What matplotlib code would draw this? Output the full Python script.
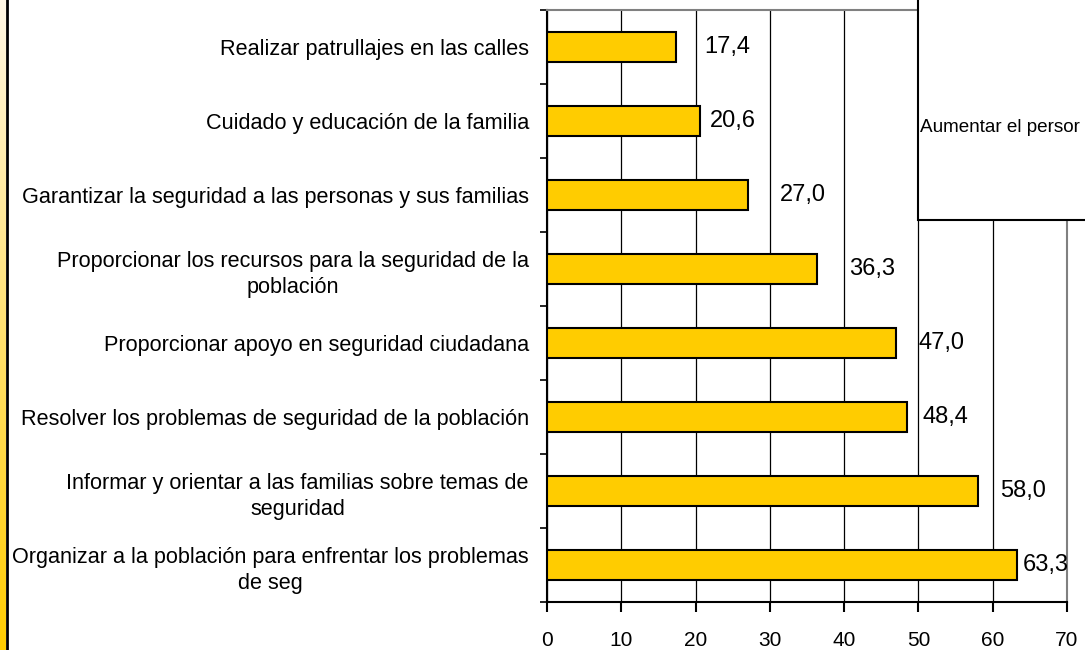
import numpy as np
import matplotlib.pyplot as plt
from matplotlib.patches import Rectangle

plt.rcParams['font.family'] = ['Liberation Sans', 'DejaVu Sans']

# data, top to bottom as shown
categories = [
    'Realizar patrullajes en las calles',
    'Cuidado y educación de la familia',
    'Garantizar la seguridad a las personas y sus familias',
    'Proporcionar los recursos para la seguridad de la\npoblación',
    'Proporcionar apoyo en seguridad ciudadana',
    'Resolver los problemas de seguridad de la población',
    'Informar y orientar a las familias sobre temas de\nseguridad',
    'Organizar a la población para enfrentar los problemas\nde seg',
]
values = [17.4, 20.6, 27.0, 36.3, 47.0, 48.4, 58.0, 63.3]
value_labels = ['17,4', '20,6', '27,0', '36,3', '47,0', '48,4', '58,0', '63,3']
label_offsets = [28, 10, 32, 32, 22, 16, 22, 6]  # px right of bar end

fig = plt.figure(figsize=(10.85, 6.5), dpi=100)
ax = fig.add_axes([547 / 1085, 48 / 650, 520 / 1085, 592 / 650])

y = np.arange(len(categories))
ax.barh(y, values, height=0.4, color='#FFCC00', edgecolor='black', linewidth=1.5, zorder=3)
ax.set_ylim(len(categories) - 0.5, -0.5)
ax.set_xlim(0, 70)

for yi, v, lab, off in zip(y, values, value_labels, label_offsets):
    ax.annotate(lab, (v, yi), xytext=(off * 0.72, 0), textcoords='offset points',
                ha='left', va='center', fontsize=17, zorder=4)

ax.set_yticks(y)
ax.set_yticklabels(categories, fontsize=15.6, multialignment='center', linespacing=1.35)
ax.tick_params(axis='y', which='major', length=0, pad=13)
ax.set_yticks(np.arange(-0.5, len(categories)), minor=True)
ax.tick_params(axis='y', which='minor', length=5, width=1.2, direction='out')

ax.set_xticks(np.arange(0, 71, 10))
ax.tick_params(axis='x', length=7, width=1.5, pad=14, labelsize=15)

ax.grid(axis='x', color='black', linewidth=0.9, zorder=0)
ax.spines['left'].set_linewidth(1.5)
ax.spines['bottom'].set_linewidth(1.5)
ax.spines['top'].set_color('#808080')
ax.spines['right'].set_color('#808080')
ax.spines['top'].set_linewidth(1.5)
ax.spines['right'].set_linewidth(1.5)

# box in the top right corner (cut off by the figure edge)
fig.patches.append(Rectangle((918 / 1085, 1 - 220 / 650), 0.2, 0.4, transform=fig.transFigure,
                             facecolor='white', edgecolor='black', linewidth=1.5, zorder=5))
fig.text(920 / 1085, 1 - 127 / 650, 'Aumentar el persor', fontsize=13.6, va='center',
         ha='left', zorder=6)

# gradient strip on the left edge
strip = fig.add_axes([0, 0, 6 / 1085, 1])
grad = np.linspace(0, 1, 256).reshape(-1, 1)
top = np.array([1.0, 0.97, 0.9])
bottom = np.array([1.0, 0.8, 0.0])
img = top + (bottom - top) * grad[:, :, None]
strip.imshow(img, aspect='auto', extent=[0, 1, 0, 1], origin='upper')
strip.axis('off')
fig.add_artist(plt.Line2D([7 / 1085, 7 / 1085], [0, 1], color='black', linewidth=2,
                          transform=fig.transFigure))

fig.savefig('out.png', dpi=100)
